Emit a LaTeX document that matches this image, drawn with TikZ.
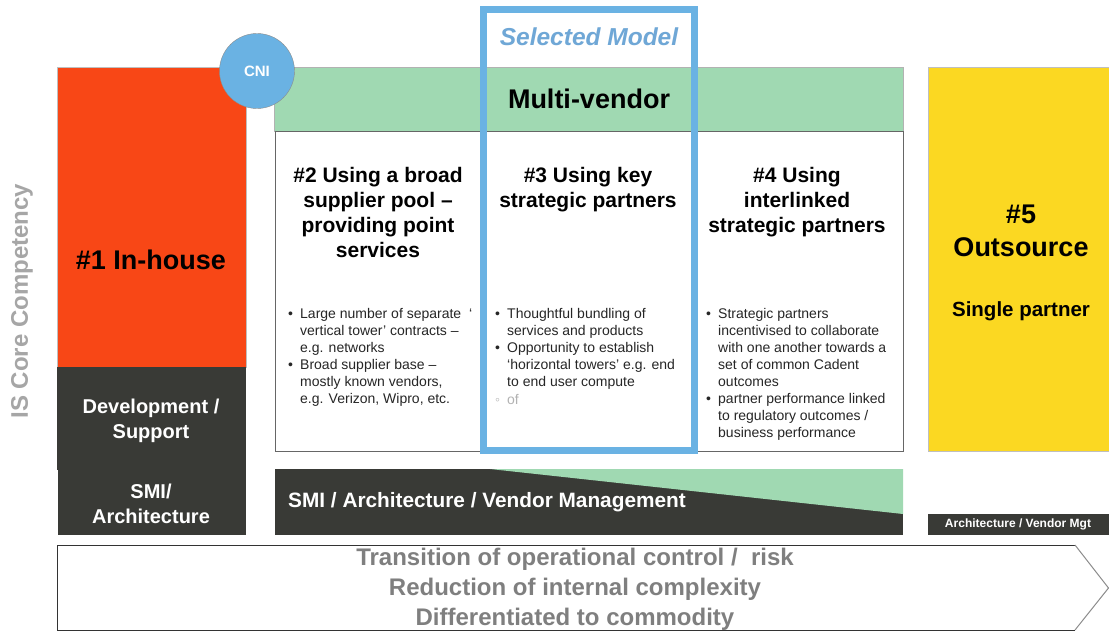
\documentclass[tikz,border=0pt]{standalone}
\usepackage{fontspec}
\setmainfont{Liberation Sans}
\newcommand\fsz[2]{\fontsize{#1}{#2}\selectfont}
\definecolor{inorange}{HTML}{F84716}
\definecolor{mvgreen}{HTML}{A0D9B2}
\definecolor{outyellow}{HTML}{FBD822}
\definecolor{darkbar}{HTML}{393A36}
\definecolor{selblue}{HTML}{6AB2E3}
\definecolor{selfont}{HTML}{6FA7D6}
\definecolor{arrowtext}{HTML}{7F7F7F}
\definecolor{sidetext}{HTML}{A6A6A6}
\definecolor{bodytext}{HTML}{262626}
\begin{document}
\begin{tikzpicture}[x=1pt,y=-1pt,
  lbl/.style={inner sep=0, align=center, font=\bfseries},
  btext/.style={inner sep=0, align=left, text=bodytext, font=\fsz{14}{17}, anchor=base west},
]
\useasboundingbox (0,0) rectangle (1109,631);
\fill[white] (0,0) rectangle (1109,631);

% #1 in-house column
\draw[black!25, fill=inorange] (57,67) rectangle (246,367);
\fill[darkbar] (57,367) rectangle (246,470);
\fill[darkbar] (58,470) rectangle (246,535);

% multi-vendor band and body
\draw[black!30, fill=mvgreen] (274,67) rectangle (903,131);
\draw[black!60, fill=white] (275,131) rectangle (903,451);

% #5 outsource column
\draw[black!25, fill=outyellow] (928,67) rectangle (1109,451);

% management bars
\fill[darkbar] (275,469) rectangle (903,535);
\fill[mvgreen] (490,469) -- (903,469) -- (903,514) -- cycle;
\fill[darkbar] (928,514) rectangle (1109,535);

% transition arrow
\draw[black!80, line width=1] (1075,545) -- (57,545) -- (57,630) -- (1075,630);
\draw[black!45, line width=1] (1075,545) -- (1108.5,588) -- (1075,630);

% selected model frame
\draw[selblue, line width=7] (483,10) rectangle (694,450);

% CNI badge
\node[circle, draw=black!45, fill=selblue, minimum size=75, inner sep=0,
      text=white, font=\bfseries\fsz{15}{18}] (cni) at (257,71) {CNI};

% labels
\node[lbl, text=selfont, font=\bfseries\itshape\fsz{24.5}{28}] (selmodel) at (589,37) {Selected Model};
\node[lbl, font=\bfseries\fsz{27}{30}] (multiv) at (589,99) {Multi-vendor};
\node[lbl, font=\bfseries\fsz{27}{32}] (inhouse) at (151,260) {\#1 In-house};
\node[lbl, text=white, font=\bfseries\fsz{20}{25}] (devsup) at (151,421) {Development /\\Support};
\node[lbl, text=white, font=\bfseries\fsz{20}{25}] (smiarch) at (151,504) {SMI/\\Architecture};
\node[lbl, font=\bfseries\fsz{21}{25}] (h2) at (378,212) {\#2 Using a broad\\supplier pool –\\providing point\\services};
\node[lbl, font=\bfseries\fsz{21}{25}] (h3) at (588,190) {\#3 Using key\\strategic partners};
\node[lbl, font=\bfseries\fsz{21}{25}] (h4) at (797,202) {\#4 Using\\interlinked\\strategic partners};
\node[lbl, font=\bfseries\fsz{27}{33}] (h5) at (1021,231) {\#5\\Outsource};
\node[lbl, font=\bfseries\fsz{20.5}{24}] (single) at (1021,311) {Single partner};
\node[lbl, anchor=west, text=white, font=\bfseries\fsz{20.8}{24}] (smibar) at (288,502) {SMI / Architecture / Vendor Management};
\node[lbl, text=white, font=\bfseries\fsz{12}{14}] (avm) at (1018,524) {Architecture / Vendor Mgt};
\node[lbl, text=arrowtext, font=\bfseries\fsz{24}{30}] (trans) at (575,589)
  {Transition of operational control /\ \ risk\\Reduction of internal complexity\\Differentiated to commodity};
\node[lbl, rotate=90, text=sidetext, font=\bfseries\fsz{24}{28}] (iscore) at (22,301) {IS Core Competency};

% bullets, column #2 (text anchored at the baseline of its last line)
\node[btext] (b2a) at (288,318) {•};
\node[btext] (t2a) at (300,352) {Large number of separate \ ‘\\vertical tower’ contracts –\\e.g. networks};
\node[btext] (b2b) at (288,369) {•};
\node[btext] (t2b) at (300,403) {Broad supplier base –\\mostly known vendors,\\e.g. Verizon, Wipro, etc.};

% bullets, column #3
\node[btext] (b3a) at (495,318) {•};
\node[btext] (t3a) at (507,335) {Thoughtful bundling of\\services and products};
\node[btext] (b3b) at (495,352) {•};
\node[btext] (t3b) at (507,386) {Opportunity to establish\\‘horizontal towers’ e.g. end\\to end user compute};
\node[btext, text=black!30] (b3c) at (495,404) {◦};
\node[btext, text=black!30] (t3c) at (507,404) {of};

% bullets, column #4
\node[btext] (b4a) at (706,318) {•};
\node[btext] (t4a) at (718,386) {Strategic partners\\incentivised to collaborate\\with one another towards a\\set of common Cadent\\outcomes};
\node[btext] (b4b) at (706,403) {•};
\node[btext] (t4b) at (718,437) {partner performance linked\\to regulatory outcomes /\\business performance};
\end{tikzpicture}
\end{document}
